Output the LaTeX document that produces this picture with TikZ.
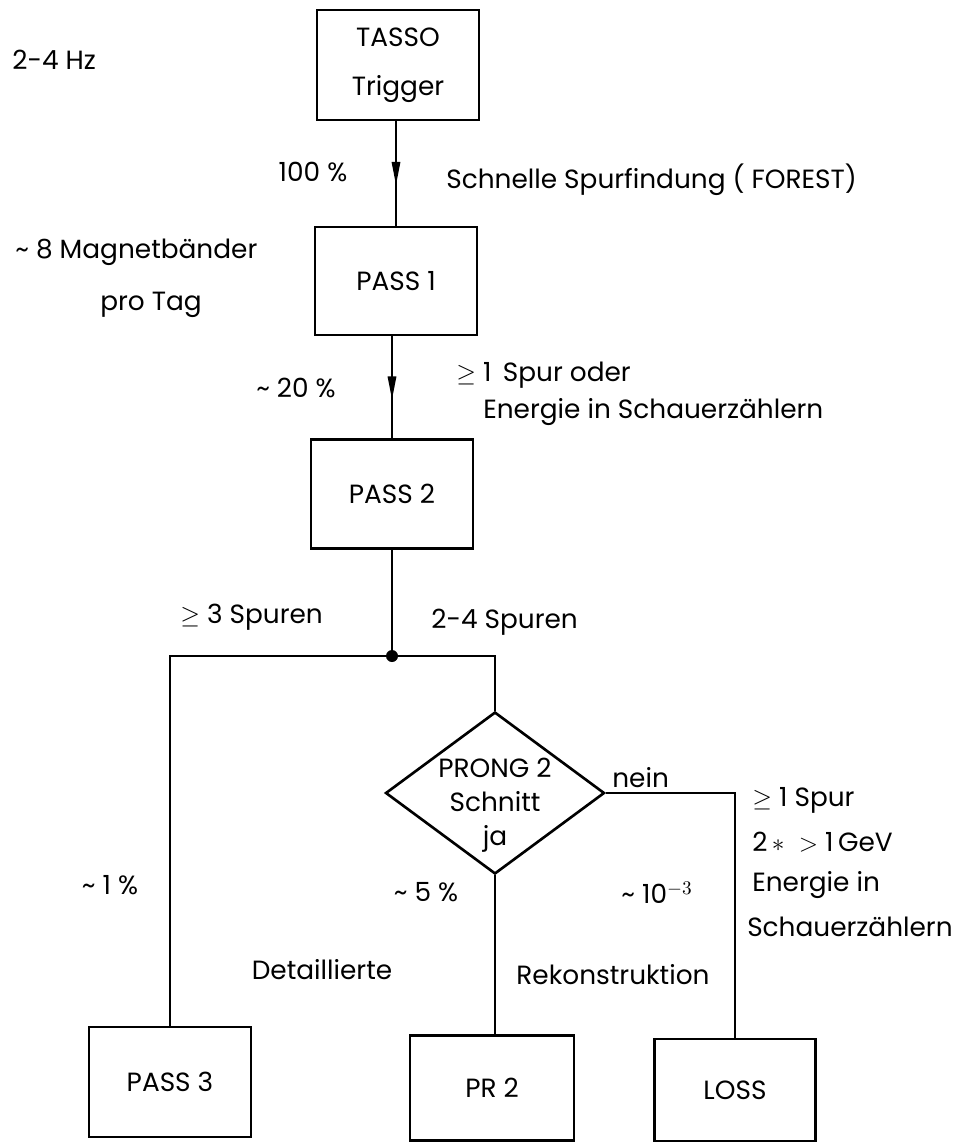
\documentclass[tikz,border=0pt]{standalone}
\usepackage{fontspec}
\setmainfont{Poppins}
\usetikzlibrary{shapes.geometric,arrows.meta,decorations.markings}

\tikzset{
  box/.style={shape=rectangle,draw=black,align=center,line width=1.5pt,minimum width=3.24cm,minimum height=2.16cm},
  flow/.style={draw=black,line width=0.8pt},
  midarrow/.style={flow,postaction={decorate},decoration={markings,mark=at position #1 with {\arrow{Triangle[length=0.46cm,width=0.17cm]}}}},
  lbl/.style={inner sep=0pt}
}

\begin{document}
\begin{tikzpicture}[x=0.02cm,y=-0.02cm,font=\fontsize{15}{18}\selectfont]
\useasboundingbox (0,0) rectangle (956,1143);

\node[box,minimum height=2.2cm] (tasso) at (398,65) {TASSO\\[0.35cm]Trigger};
\node[box] (pass1) at (396,281) {PASS 1};
\node[box,minimum height=2.18cm] (pass2) at (392,494) {PASS 2};
\node[shape=diamond,draw=black,line width=1.5pt,minimum width=4.38cm,minimum height=3.24cm,inner sep=0pt] (prong) at (495,793) {};
\node[align=center,lbl] (prongtext) at (495,805) {PRONG 2\\[0.05cm]Schnitt\\[0.05cm]ja};
\node[box,minimum height=2.2cm] (pass3) at (170,1082) {PASS 3};
\node[box,minimum width=3.28cm,minimum height=2.1cm] (pr2) at (492,1088) {PR 2};
\node[box,minimum width=3.22cm,minimum height=2.04cm] (loss) at (735,1090) {LOSS};

\path (0,656) coordinate (jy);
\coordinate (junc) at (pass2.south |- jy);

\path [midarrow=0.61] (pass1.north |- tasso.south) -- (pass1.north);
\path [midarrow=0.62] (pass2.north |- pass1.south) -- (pass2.north);
\path [flow] (pass2.south) -- (junc);
\path [flow] (junc) -| (pass3.north);
\path [flow] (junc) -| (prong.north);
\path [flow] (prong.east) -| (loss.north);
\path [flow] (prong.south) -- (prong.south |- pr2.north);
\fill[black] (junc) circle (6);

% Beschriftungen
\node[lbl,anchor=west] (rate) at (12,60) {2-4 Hz};
\node[lbl] (all) at (313,172) {100 \%};
\node[lbl,anchor=west] (forest) at (446,180) {Schnelle Spurfindung ( FOREST)};
\node[lbl,anchor=west] (tapes) at (15,252) {\textasciitilde{} 8 Magnetbänder};
\node[lbl] (perday) at (151,305) {pro Tag};
\node[lbl] (twenty) at (296,388) {\textasciitilde{} 20 \%};
\node[lbl,anchor=west] (cutA) at (456,375) {$\geq$ 1\, Spur oder};
\node[lbl,anchor=west] (cutB) at (483,412) {Energie in Schauerzählern};
\node[lbl,anchor=west] (many) at (180,617) {$\geq$ 3 Spuren};
\node[lbl,anchor=west] (few) at (431,622) {2-4 Spuren};
\node[lbl,anchor=west] (nein) at (612,778) {nein};
\node[lbl,anchor=west] (lossA) at (752,800) {$\geq$ 1 Spur};
\node[lbl,anchor=west] (lossB) at (752,842) {2\,$\ast$\; $>$ 1\,GeV};
\node[lbl,anchor=west] (lossC) at (752,885) {Energie in};
\node[lbl,anchor=east] (lossD) at (953,927) {Schauerzählern};
\node[lbl] (one) at (110,885) {\textasciitilde{} 1 \%};
\node[lbl] (five) at (426,892) {\textasciitilde{} 5 \%};
\node[lbl] (milli) at (657,893) {\textasciitilde{} 10$^{-3}$};
\node[lbl] (detail) at (322,970) {Detaillierte};
\node[lbl] (reco) at (613,975) {Rekonstruktion};
\end{tikzpicture}
\end{document}
